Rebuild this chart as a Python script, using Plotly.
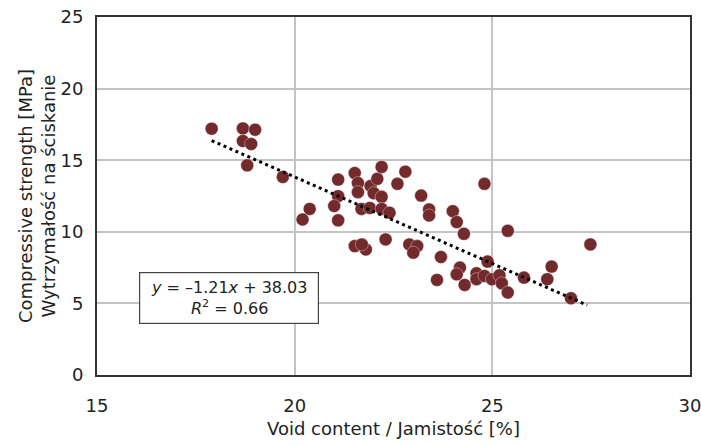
import numpy as np
import plotly.graph_objects as go

void_content = [17.9, 18.69, 19.0, 18.69, 18.9, 18.8, 19.7, 20.38, 20.2,
                21.1, 21.1, 21.0, 21.1, 21.52, 21.6, 21.6, 21.69, 21.9, 21.92,
                22.09, 22.2, 22.0, 22.2, 22.2, 22.4, 22.6, 22.8, 21.52, 21.8,
                21.7, 22.3, 22.9, 23.1, 23.0, 23.2, 23.4, 23.4, 23.7, 23.6,
                24.0, 24.1, 24.28, 24.8, 24.18, 24.1, 24.3, 24.6, 24.6, 24.8,
                24.88, 24.99, 25.18, 25.24, 25.39, 25.8, 26.5, 26.39, 26.99,
                25.39, 27.48]
strength = [17.2, 17.22, 17.13, 16.34, 16.13, 14.64, 13.83, 11.6, 10.86,
            13.65, 12.49, 11.8, 10.8, 14.1, 13.4, 12.77, 11.6, 11.67, 13.2,
            13.7, 14.53, 12.7, 12.44, 11.6, 11.33, 13.35, 14.2, 9.0, 8.77,
            9.12, 9.47, 9.12, 9.0, 8.54, 12.53, 11.56, 11.14, 8.24, 6.64,
            11.44, 10.68, 9.86, 13.35, 7.5, 7.03, 6.29, 7.1, 6.69, 6.92,
            7.92, 6.69, 6.96, 6.4, 5.76, 6.8, 7.57, 6.69, 5.36,
            10.07, 9.12]

# regression shown on the chart
slope = -1.21
intercept = 38.03
r_squared = 0.66
trend_range = [17.9, 27.4]

eq_text = (f"<i>y</i> = \u2013{abs(slope):.2f}<i>x</i> + {intercept:.2f}"
           f"<br><i>R</i><sup>2</sup> = {r_squared:.2f}")
x_title = "Void content / Jamistość [%]"
y_title = "Compressive strength [MPa]<br>Wytrzymałość na ściskanie"
x_ticks = [15, 20, 25, 30]
y_ticks = [0, 5, 10, 15, 20, 25]

fit_x = np.array(trend_range)
fit_y = slope * fit_x + intercept

FONT = "DejaVu Sans, Liberation Sans, Arial"

fig = go.Figure()
fig.add_trace(go.Scatter(
    x=void_content, y=strength, mode="markers",
    marker=dict(size=13, color="#732a2d",
                line=dict(width=0.6, color="rgba(255,255,255,0.6)")),
    showlegend=False, hoverinfo="skip"))
fig.add_trace(go.Scatter(
    x=fit_x, y=fit_y, mode="lines",
    line=dict(color="black", width=3, dash="3px,3.5px"),
    showlegend=False, hoverinfo="skip"))

fig.add_annotation(
    x=18.33, y=5.4, xref="x", yref="y", text=eq_text, showarrow=False,
    font=dict(family=FONT, size=16, color="#222"),
    bordercolor="#444", borderwidth=1.2, bgcolor="white",
    width=174, height=46, borderpad=2, align="center")

axis_font = dict(family=FONT, size=18, color="#222")
fig.update_layout(
    width=701, height=445,
    margin=dict(l=97, r=11, t=17, b=70),
    plot_bgcolor="white", paper_bgcolor="white",
    font=axis_font,
    xaxis=dict(range=[15, 30], tickvals=x_ticks, showgrid=True,
               gridcolor="#c4c4c4", gridwidth=1.5, zeroline=False,
               showline=True, linecolor="#333", linewidth=2, mirror=True,
               ticks="", ticklabelstandoff=13, tickfont=axis_font,
               automargin=False, ticklabeloverflow="allow",
               title=dict(text=x_title, font=axis_font, standoff=8)),
    yaxis=dict(range=[0, 25], tickvals=y_ticks, showgrid=True,
               gridcolor="#c4c4c4", gridwidth=1.5, zeroline=False,
               showline=True, linecolor="#333", linewidth=2, mirror=True,
               ticks="", ticklabelstandoff=8, tickfont=axis_font,
               automargin=False, ticklabeloverflow="allow",
               title=dict(text=y_title, font=axis_font, standoff=0)),
)

fig.write_html("out.html")
